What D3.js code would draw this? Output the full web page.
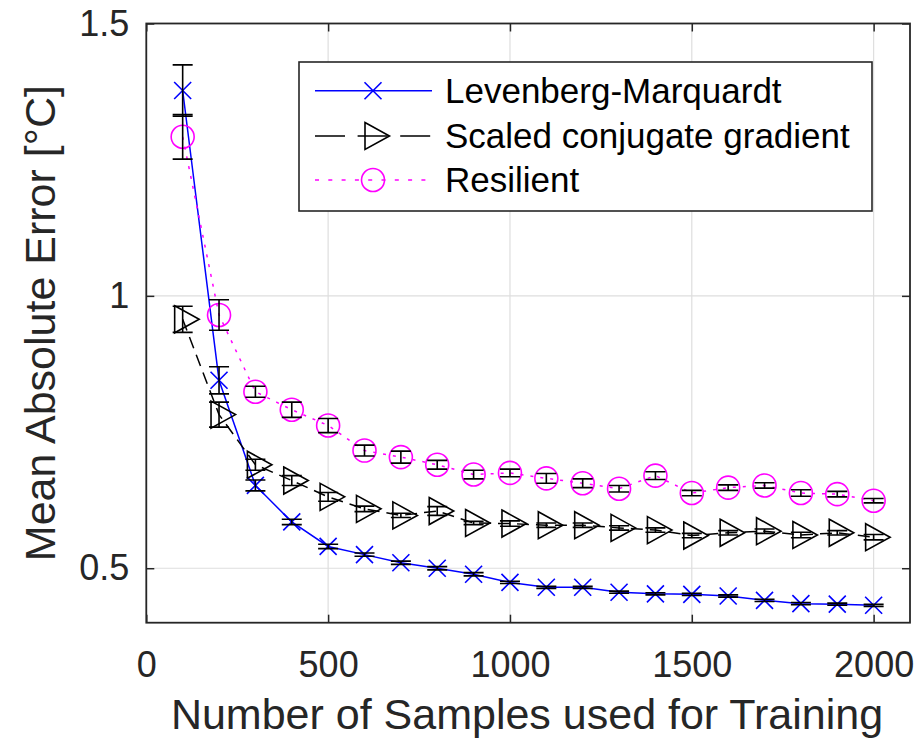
<!DOCTYPE html>
<html>
<head>
<meta charset="utf-8">
<script src="https://cdn.jsdelivr.net/npm/d3@7"></script>
<style>
  html, body { margin: 0; padding: 0; background: #fff; }
  svg { display: block; font-family: "Liberation Sans", Arial, Helvetica, sans-serif; }
</style>
</head>
<body>
<svg id="chart" width="920" height="742"></svg>
<script>
// Training set sizes
const samples = [100, 200, 300, 400, 500, 600, 700, 800, 900, 1000,
                 1100, 1200, 1300, 1400, 1500, 1600, 1700, 1800, 1900, 2000];

// Levenberg-Marquardt: mean absolute error and error bar half-length
const lmMean = [1.377, 0.845, 0.652, 0.585, 0.540, 0.525, 0.510, 0.500, 0.489, 0.474,
                0.465, 0.465, 0.456, 0.453, 0.452, 0.449, 0.441, 0.435, 0.434, 0.432];
const lmErr  = [0.047, 0.025, 0.010, 0.005, 0.004, 0.003, 0.003, 0.003, 0.003, 0.002,
                0.002, 0.002, 0.002, 0.002, 0.002, 0.002, 0.002, 0.002, 0.002, 0.002];

// Scaled conjugate gradient
const scgMean = [0.957, 0.782, 0.690, 0.661, 0.631, 0.609, 0.597, 0.605, 0.583, 0.582,
                 0.579, 0.579, 0.574, 0.570, 0.560, 0.565, 0.568, 0.561, 0.565, 0.557];
const scgErr  = [0.024, 0.023, 0.010, 0.009, 0.008, 0.005, 0.004, 0.008, 0.003, 0.005,
                 0.004, 0.004, 0.004, 0.004, 0.004, 0.004, 0.004, 0.005, 0.004, 0.005];

// Resilient backpropagation
const rpMean = [1.292, 0.965, 0.824, 0.791, 0.762, 0.716, 0.704, 0.690, 0.672, 0.675,
                0.665, 0.656, 0.646, 0.670, 0.638, 0.648, 0.652, 0.638, 0.636, 0.624];
const rpErr  = [0.041, 0.028, 0.010, 0.014, 0.013, 0.010, 0.011, 0.008, 0.008, 0.007,
                0.009, 0.008, 0.006, 0.007, 0.005, 0.005, 0.005, 0.006, 0.005, 0.004];

const seriesNames = ["Levenberg-Marquardt", "Scaled conjugate gradient", "Resilient"];
const xTicks = [0, 500, 1000, 1500, 2000];
const yTicks = [0.5, 1, 1.5];
const xLabel = "Number of Samples used for Training";
const yLabel = "Mean Absolute Error [°C]";

const svg = d3.select("#chart");
const pLeft = 146.3, pRight = 910, pTop = 23.5, pBottom = 622.7;
const axisColor = "#262626";

const x = d3.scaleLinear().domain([0, 2100]).range([pLeft, pRight]);
const y = d3.scaleLinear().domain([0.4, 1.5]).range([pBottom, pTop]);

// grid
const grid = svg.append("g");
grid.selectAll("line.gx").data(xTicks).join("line")
  .attr("x1", d => x(d)).attr("x2", d => x(d))
  .attr("y1", pTop).attr("y2", pBottom)
  .attr("stroke", "#dedede").attr("stroke-width", 1.2);
grid.selectAll("line.gy").data(yTicks).join("line")
  .attr("x1", pLeft).attr("x2", pRight)
  .attr("y1", d => y(d)).attr("y2", d => y(d))
  .attr("stroke", "#dedede").attr("stroke-width", 1.2);

// axes with inward ticks on all four sides
const tickLen = 8;
const fmtY = d => d3.format("~g")(d);
svg.append("g").attr("transform", `translate(0,${pBottom})`)
  .call(d3.axisBottom(x).tickValues(xTicks).tickSize(-tickLen).tickPadding(29).tickFormat(d3.format("d")))
  .call(g => g.select(".domain").remove());
svg.append("g").attr("transform", `translate(0,${pTop})`)
  .call(d3.axisTop(x).tickValues(xTicks).tickSize(-tickLen).tickFormat(""))
  .call(g => g.select(".domain").remove());
svg.append("g").attr("transform", `translate(${pLeft},0)`)
  .call(d3.axisLeft(y).tickValues(yTicks).tickSize(-tickLen).tickPadding(17).tickFormat(fmtY))
  .call(g => g.select(".domain").remove());
svg.append("g").attr("transform", `translate(${pRight},0)`)
  .call(d3.axisRight(y).tickValues(yTicks).tickSize(-tickLen).tickFormat(""))
  .call(g => g.select(".domain").remove());

svg.selectAll(".tick line").attr("stroke", axisColor).attr("stroke-width", 1.5);
svg.selectAll(".tick text").attr("fill", axisColor).style("font-size", "36px")
  .style("font-family", "'Liberation Sans', Arial, Helvetica, sans-serif");

// frame
svg.append("rect").attr("x", pLeft).attr("y", pTop)
  .attr("width", pRight - pLeft).attr("height", pBottom - pTop)
  .attr("fill", "none").attr("stroke", axisColor).attr("stroke-width", 1.8);

// axis titles
svg.append("text").attr("x", 527).attr("y", 729)
  .attr("text-anchor", "middle").attr("fill", axisColor)
  .style("font-size", "43px").text(xLabel);
svg.append("text")
  .attr("transform", `translate(55,${(pTop + pBottom) / 2}) rotate(-90)`)
  .attr("text-anchor", "middle").attr("fill", axisColor)
  .style("font-size", "43px").text(yLabel);

// marker shapes
function drawX(g, cx, cy, color) {
  const s = 8.5;
  g.append("path").attr("d", `M${cx - s},${cy - s}L${cx + s},${cy + s}M${cx - s},${cy + s}L${cx + s},${cy - s}`)
    .attr("stroke", color).attr("stroke-width", 1.6).attr("fill", "none");
}
function drawTri(g, cx, cy, color) {
  g.append("path").attr("d", `M${cx - 8},${cy - 13.5}L${cx + 16.5},${cy}L${cx - 8},${cy + 13.5}Z`)
    .attr("stroke", color).attr("stroke-width", 1.6).attr("fill", "none");
}
function drawCircle(g, cx, cy, color) {
  g.append("circle").attr("cx", cx).attr("cy", cy).attr("r", 11.5)
    .attr("stroke", color).attr("stroke-width", 1.6).attr("fill", "none");
}

const series = [
  { name: seriesNames[0], mean: lmMean, err: lmErr, color: "#0000ff", dash: null, legendDash: null, marker: drawX },
  { name: seriesNames[1], mean: scgMean, err: scgErr, color: "#000000", dash: "12,7", legendDash: "30,12.6", marker: drawTri },
  { name: seriesNames[2], mean: rpMean, err: rpErr, color: "#ff00ff", dash: "3,7", legendDash: "4,9.3", marker: drawCircle }
];

const plot = svg.append("g");
const line = d3.line().x(d => x(d[0])).y(d => y(d[1]));

series.forEach(s => {
  const pts = samples.map((v, i) => [v, s.mean[i]]);
  plot.append("path").datum(pts).attr("d", line)
    .attr("fill", "none").attr("stroke", s.color).attr("stroke-width", 1.5)
    .attr("stroke-dasharray", s.dash);
  const mg = plot.append("g");
  pts.forEach(p => s.marker(mg, x(p[0]), y(p[1]), s.color));
});

// error bars (black) over the markers
const cap = 10;
series.forEach(s => {
  const eg = plot.append("g").attr("stroke", "#000").attr("stroke-width", 1.6).attr("fill", "none");
  samples.forEach((v, i) => {
    const cx = x(v), y0 = y(s.mean[i] - s.err[i]), y1 = y(s.mean[i] + s.err[i]);
    eg.append("path").attr("d", `M${cx},${y0}L${cx},${y1}M${cx - cap},${y0}L${cx + cap},${y0}M${cx - cap},${y1}L${cx + cap},${y1}`);
  });
});

// legend
const lg = svg.append("g");
lg.append("rect").attr("x", 299).attr("y", 62).attr("width", 573).attr("height", 149)
  .attr("fill", "#fff").attr("stroke", axisColor).attr("stroke-width", 1.6);
const rowY = [90.7, 136, 180];
series.forEach((s, i) => {
  const yy = rowY[i];
  lg.append("line").attr("x1", 315).attr("x2", 432).attr("y1", yy).attr("y2", yy)
    .attr("stroke", s.color).attr("stroke-width", 1.5).attr("stroke-dasharray", s.legendDash);
  s.marker(lg, 373, yy, s.color);
  lg.append("text").attr("x", 445).attr("y", yy + 12).attr("fill", "#000")
    .style("font-size", "35px").text(s.name);
});
</script>
</body>
</html>
